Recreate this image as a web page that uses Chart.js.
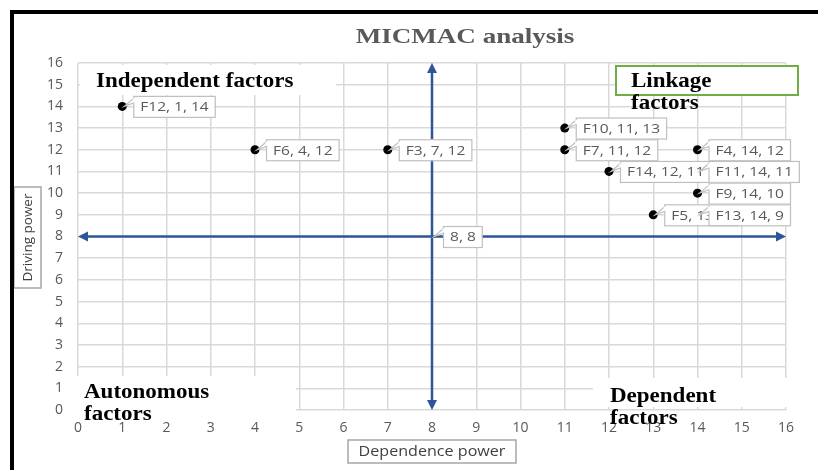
<!DOCTYPE html>
<html><head><meta charset="utf-8">
<script src="https://cdn.jsdelivr.net/npm/chart.js@4/dist/chart.umd.min.js"></script>
<style>html,body{margin:0;padding:0;background:#fff;}canvas{display:block;}</style>
</head><body>
<canvas id="c" width="818" height="470"></canvas>
<script>
// ---- data ----
const factorNames     = ['F12','F6','F3','F10','F7','F4','F14','F11','F9','F5','F13'];
const dependencePower = [1, 4, 7, 11, 11, 14, 12, 14, 14, 13, 14];
const drivingPower    = [14, 12, 12, 13, 12, 12, 11, 11, 10, 9, 9];
const centerDependence = [8];
const centerDriving    = [8];
const axisMin = 0, axisMax = 16, axisStep = 1;
const chartTitle = 'MICMAC analysis';
const xAxisTitle = 'Dependence power';
const yAxisTitle = 'Driving power';

const factorPoints = factorNames.map((n, i) => ({x: dependencePower[i], y: drivingPower[i]}));
const centerPoints = centerDependence.map((v, i) => ({x: v, y: centerDriving[i]}));

const TICK_FONT = {family: 'Open Sans', size: 14};
const SERIF = '"Liberation Serif", "Times New Roman", serif';

function stretchText(ctx, text, x, y, font, color, sx, align) {
  ctx.save();
  ctx.font = font;
  ctx.fillStyle = color;
  ctx.textBaseline = 'middle';
  ctx.textAlign = 'left';
  const w = ctx.measureText(text).width * sx;
  let left = x;
  if (align === 'center') left = x - w / 2;
  ctx.translate(left, y);
  ctx.scale(sx, 1);
  ctx.fillText(text, 0, 0);
  ctx.restore();
  return w;
}

function arrowHead(ctx, tipX, tipY, dx, dy, len, half) {
  const bx = tipX - dx * len, by = tipY - dy * len;
  ctx.beginPath();
  ctx.moveTo(tipX, tipY);
  ctx.lineTo(bx - dy * half, by + dx * half);
  ctx.lineTo(bx + dy * half, by - dx * half);
  ctx.closePath();
  ctx.fill();
}

const overlay = {
  id: 'overlay',
  beforeDraw(chart) {
    const ctx = chart.ctx;
    ctx.save();
    ctx.fillStyle = '#fff';
    ctx.fillRect(0, 0, chart.width, chart.height);
    ctx.restore();
  },
  beforeDatasetsDraw(chart) {
    const {ctx, scales: {x, y}} = chart;
    ctx.save();
    // white backgrounds of quadrant text boxes
    ctx.fillStyle = '#fff';
    ctx.fillRect(80, 65, 256, 30);
    ctx.fillRect(77, 376, 219, 36);
    ctx.fillRect(593, 378, 197, 29);
    ctx.fillRect(616, 66, 182, 29);
    ctx.strokeStyle = '#70AD47';
    ctx.lineWidth = 2;
    ctx.strokeRect(616, 66, 182, 29);

    // quadrant arrows
    const blue = '#2E5597';
    ctx.strokeStyle = blue;
    ctx.fillStyle = blue;
    ctx.lineWidth = 2.5;
    const cx = x.getPixelForValue(centerDependence[0]);
    const cy = y.getPixelForValue(centerDriving[0]);
    const x0 = x.getPixelForValue(axisMin), x1 = x.getPixelForValue(axisMax);
    const y0 = y.getPixelForValue(axisMin), y1 = y.getPixelForValue(axisMax);
    ctx.beginPath();
    ctx.moveTo(x0 + 6, cy); ctx.lineTo(x1 - 6, cy);
    ctx.moveTo(cx, y0 - 6); ctx.lineTo(cx, y1 + 6);
    ctx.stroke();
    arrowHead(ctx, x0, cy, -1, 0, 10, 5);
    arrowHead(ctx, x1, cy, 1, 0, 10, 5);
    arrowHead(ctx, cx, y0, 0, 1, 10, 5);
    arrowHead(ctx, cx, y1, 0, -1, 10, 5);
    ctx.restore();
  },
  afterDatasetsDraw(chart) {
    const {ctx, scales: {x, y}} = chart;
    ctx.save();
    // data labels
    const labels = [];
    factorNames.forEach((n, i) => labels.push({t: n + ', ' + dependencePower[i] + ', ' + drivingPower[i], x: dependencePower[i], y: drivingPower[i]}));
    centerPoints.forEach(p => labels.push({t: p.x + ', ' + p.y, x: p.x, y: p.y}));
    const LF = '13.5px "Open Sans"', LSX = 1.15;
    labels.forEach(l => {
      const px = x.getPixelForValue(l.x), py = y.getPixelForValue(l.y);
      ctx.font = LF;
      const w = ctx.measureText(l.t).width * LSX + 13;
      const h = 21;
      const bx = px + 11, by = py - h / 2;
      // tail
      ctx.fillStyle = '#fff';
      ctx.strokeStyle = '#bfbfbf';
      ctx.lineWidth = 1.2;
      ctx.beginPath();
      ctx.moveTo(bx + 1, by + 2);
      ctx.lineTo(px + 2, py);
      ctx.lineTo(bx + 1, by + 7);
      ctx.closePath();
      ctx.fill();
      ctx.stroke();
      ctx.fillRect(bx, by, w, h);
      ctx.strokeRect(bx + 0.5, by + 0.5, w, h);
      ctx.fillStyle = '#fff';
      ctx.fillRect(bx - 0.5, by + 2.5, 2.5, 4);
      stretchText(ctx, l.t, bx + 7, py + 1, LF, '#595959', LSX);
    });

    // quadrant texts
    const qf = 'bold 20px ' + SERIF;
    stretchText(ctx, 'Independent factors', 96, 82, qf, '#000', 1.15);
    stretchText(ctx, 'Linkage', 631, 82, qf, '#000', 1.15);
    stretchText(ctx, 'factors', 631, 104, qf, '#000', 1.15);
    stretchText(ctx, 'Autonomous', 84, 393, qf, '#000', 1.15);
    stretchText(ctx, 'factors', 84, 415, qf, '#000', 1.15);
    stretchText(ctx, 'Dependent', 610, 397, qf, '#000', 1.15);
    stretchText(ctx, 'factors', 610, 419, qf, '#000', 1.15);

    // title
    stretchText(ctx, chartTitle, 465, 37, 'bold 22px ' + SERIF, '#595959', 1.23, 'center');

    // axis title boxes
    ctx.fillStyle = '#fff';
    ctx.strokeStyle = '#a6a6a6';
    ctx.lineWidth = 1.5;
    ctx.fillRect(14, 187, 27, 101);
    ctx.strokeRect(14, 187, 27, 101);
    ctx.fillRect(348, 440, 168, 23);
    ctx.strokeRect(348, 440, 168, 23);
    stretchText(ctx, xAxisTitle, 432, 452, '14px "Open Sans"', '#404040', 1.15, 'center');
    ctx.save();
    ctx.translate(28, 237.5);
    ctx.rotate(-Math.PI / 2);
    ctx.font = '13.5px "Open Sans"';
    ctx.fillStyle = '#404040';
    ctx.textAlign = 'center';
    ctx.textBaseline = 'middle';
    ctx.fillText(yAxisTitle, 0, 0);
    ctx.restore();

    // outer frame
    ctx.fillStyle = '#000';
    ctx.fillRect(10, 10, 808, 4);
    ctx.fillRect(10, 10, 4, 460);
    ctx.restore();
  }
};

new Chart(document.getElementById('c'), {
  type: 'scatter',
  data: {
    datasets: [
      {label: 'Factors', data: factorPoints, pointRadius: 4.5, pointHoverRadius: 4.5,
       backgroundColor: '#000', borderColor: '#000', pointBorderWidth: 0},
      {label: 'Center', data: centerPoints, pointRadius: 0, pointHoverRadius: 0,
       backgroundColor: '#000', borderColor: '#000'}
    ]
  },
  options: {
    responsive: false,
    animation: false,
    devicePixelRatio: 1,
    layout: {padding: {top: 63, right: 32, left: 0, bottom: 0}},
    plugins: {legend: {display: false}, title: {display: false}, tooltip: {enabled: false}},
    scales: {
      x: {
        type: 'linear', min: axisMin, max: axisMax,
        ticks: {stepSize: axisStep, color: '#595959', font: TICK_FONT, padding: 10, maxRotation: 0, autoSkip: false},
        grid: {color: '#d9d9d9', lineWidth: 1.5, drawTicks: false},
        border: {display: false},
        afterFit(s) { s.height = 60; }
      },
      y: {
        type: 'linear', min: axisMin, max: axisMax,
        ticks: {stepSize: axisStep, color: '#595959', font: TICK_FONT, padding: 15, autoSkip: false},
        grid: {color: '#d9d9d9', lineWidth: 1.5, drawTicks: false},
        border: {display: false},
        afterFit(s) { s.width = 78; }
      }
    }
  },
  plugins: [overlay]
});
</script>
</body></html>
